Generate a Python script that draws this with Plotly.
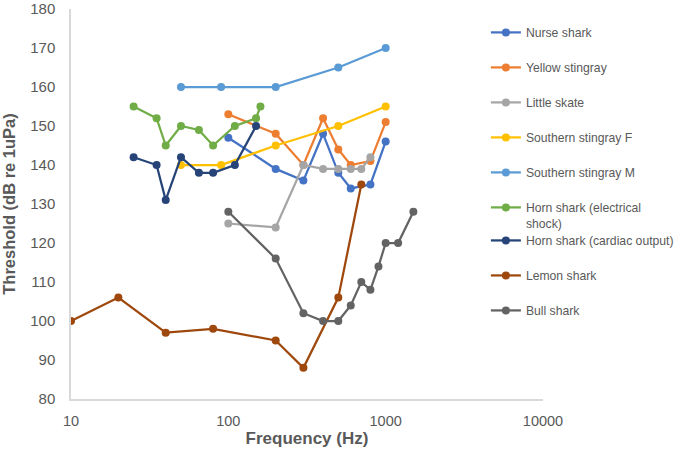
import plotly.graph_objects as go

nurse_f = [100, 200, 300, 400, 500, 600, 800, 1000]
nurse_db = [147, 139, 136, 148, 138, 134, 135, 146]

yellow_f = [100, 200, 300, 400, 500, 600, 800, 1000]
yellow_db = [153, 148, 140, 152, 144, 140, 141, 151]

skate_f = [100, 200, 300, 400, 500, 600, 700, 800]
skate_db = [125, 124, 140, 139, 139, 139, 139, 142]

ssf_f = [50, 90, 200, 500, 1000]
ssf_db = [140, 140, 145, 150, 155]

ssm_f = [50, 90, 200, 500, 1000]
ssm_db = [160, 160, 160, 165, 170]

horn_e_f = [25, 35, 40, 50, 65, 80, 110, 150, 160]
horn_e_db = [155, 152, 145, 150, 149, 145, 150, 152, 155]

horn_c_f = [25, 35, 40, 50, 65, 80, 110, 150]
horn_c_db = [142, 140, 131, 142, 138, 138, 140, 150]

lemon_f = [10, 20, 40, 80, 200, 300, 500, 700]
lemon_db = [100, 106, 97, 98, 95, 88, 106, 135]

bull_f = [100, 200, 300, 400, 500, 600, 700, 800, 900, 1000, 1200, 1500]
bull_db = [128, 116, 102, 100, 100, 104, 110, 108, 114, 120, 120, 128]

series = [
    ("Nurse shark", nurse_f, nurse_db, "#4472C4"),
    ("Yellow stingray", yellow_f, yellow_db, "#ED7D31"),
    ("Little skate", skate_f, skate_db, "#A5A5A5"),
    ("Southern stingray F", ssf_f, ssf_db, "#FFC000"),
    ("Southern stingray M", ssm_f, ssm_db, "#5B9BD5"),
    ("Horn shark (electrical<br>shock)", horn_e_f, horn_e_db, "#70AD47"),
    ("Horn shark (cardiac output)", horn_c_f, horn_c_db, "#264478"),
    ("Lemon shark", lemon_f, lemon_db, "#9E480E"),
    ("Bull shark", bull_f, bull_db, "#636363"),
]

x_ticks = [10, 100, 1000, 10000]
y_ticks = list(range(80, 181, 10))

fig = go.Figure()
for i, (name, f, db, col) in enumerate(series):
    fig.add_trace(go.Scatter(
        x=f, y=db, name=name, mode="lines+markers",
        line=dict(color=col, width=2.25),
        marker=dict(color=col, size=8),
        legendgroup=f"g{i}",
        legend="legend" if i < 6 else "legend2",
    ))

font_fam = "Liberation Sans, Arial, sans-serif"
gray = "#595959"

leg_common = dict(
    xanchor="left", yanchor="top",
    font=dict(size=12.2, color=gray),
    tracegroupgap=16, valign="top",
    bgcolor="rgba(0,0,0,0)",
)

fig.update_layout(
    width=685, height=455,
    margin=dict(l=71, r=142, t=9, b=56, autoexpand=False),
    paper_bgcolor="white", plot_bgcolor="white",
    font=dict(family=font_fam, color=gray, size=13),
    legend=dict(x=0.879, y=0.977, **leg_common),
    legend2=dict(x=0.879, y=0.4436, **leg_common),
    showlegend=True,
)
fig.update_xaxes(
    type="log", range=[1, 4],
    tickvals=x_ticks, ticktext=[str(v) for v in x_ticks],
    showgrid=False, zeroline=False, automargin=False,
    showline=True, linecolor="#D9D9D9", linewidth=1.5,
    ticks="", ticklabelstandoff=8,
    tickfont=dict(size=14.5, color=gray),
    title=dict(text="<b>Frequency (Hz)</b>", font=dict(size=17, color=gray), standoff=4),
)
fig.update_yaxes(
    range=[80, 180], tickvals=y_ticks,
    showgrid=False, zeroline=False, automargin=False,
    showline=True, linecolor="#D9D9D9", linewidth=1.5,
    ticks="", ticklabelstandoff=11,
    tickfont=dict(size=15, color=gray),
    title=dict(text="<b>Threshold (dB re 1uPa)</b>", font=dict(size=16.5, color=gray), standoff=14),
)

fig.write_html("out.html", config={"displayModeBar": False},
               post_script="document.body.style.margin='0';")
